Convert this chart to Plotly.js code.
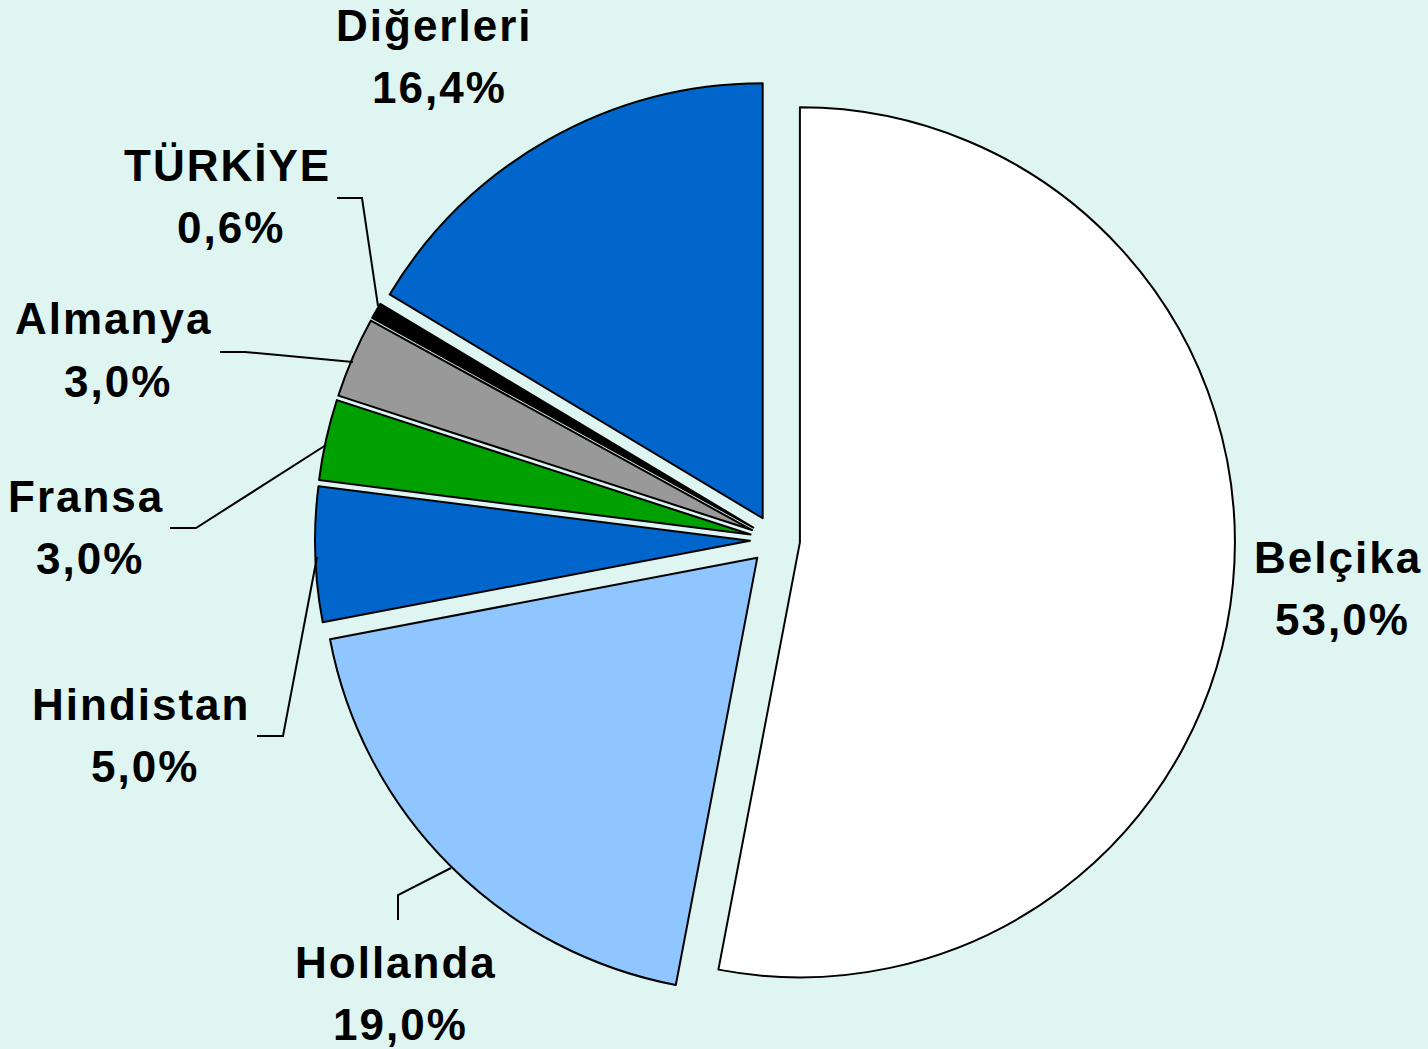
<!DOCTYPE html>
<html>
<head>
<meta charset="utf-8">
<script src="https://cdn.plot.ly/plotly-3.0.1.min.js"></script>
<style>
  body { margin: 0; background: #dff5f2; }
  .annotation-text { letter-spacing: 2px; }
</style>
</head>
<body>
<div id="plotArea" style="width:1428px;height:1049px;"></div>
<script>
// shares of each country
var countries = ["Belçika", "Hollanda", "Hindistan", "Fransa", "Almanya", "TÜRKİYE", "Diğerleri"]
var shares = [53.0, 19.0, 5.0, 3.0, 3.0, 0.6, 16.4]
var sliceColors = ["#ffffff", "#8fc6ff", "#0066cc", "#00a000", "#999999", "#000000", "#0066cc"]

// label centres and leader lines, in pixels of the 1428x1049 page
var W = 1428, H = 1049
var labelPos = [[1340, 588], [398, 993], [143, 735], [88, 527], [116, 350], [229, 196], [437, 57]]
var leaders = [
    null,
    [[398, 920], [398, 895], [451, 868]],
    [[257, 736], [283, 736], [317, 557]],
    [[170, 528], [196, 528], [326, 445]],
    [[220, 352], [245, 352], [353, 362]],
    [[337, 198], [362, 198], [378, 306]],
    null
]

function px(x) { return x / W }
function py(y) { return 1 - y / H }

var trace = [{
    type: "pie",
    labels: countries,
    values: shares,
    sort: false,
    direction: "clockwise",
    rotation: 0,
    pull: 0.0575,
    textinfo: "none",
    hoverinfo: "label+percent",
    marker: { colors: sliceColors, line: { color: "#000000", width: 2 } },
    domain: { x: [px(315), px(1235)], y: [py(1000), py(80)] },
    showlegend: false
}]

var labelFont = { family: "Liberation Sans, Arial, sans-serif", size: 44, weight: "bold", color: "#000000" }

// two lines per label: name and "53,0%"
var annotations = []
countries.forEach(function (name, i) {
    var pct = shares[i].toFixed(1).replace(".", ",") + "%"
    annotations.push({
        xref: "paper", yref: "paper",
        x: px(labelPos[i][0] - 2), y: py(labelPos[i][1] - 31),
        xanchor: "center", yanchor: "middle",
        text: name, showarrow: false, font: labelFont
    })
    annotations.push({
        xref: "paper", yref: "paper",
        x: px(labelPos[i][0] + 2), y: py(labelPos[i][1] + 31),
        xanchor: "center", yanchor: "middle",
        text: pct, showarrow: false, font: labelFont
    })
})

var shapes = []
leaders.forEach(function (pts) {
    if (!pts) return
    var d = pts.map((p, j) => (j == 0 ? "M" : "L") + px(p[0]) + "," + py(p[1])).join(" ")
    shapes.push({ type: "path", xref: "paper", yref: "paper", path: d, line: { color: "#000000", width: 2 } })
})

var layout = {
    width: W,
    height: H,
    margin: { l: 0, r: 0, t: 0, b: 0 },
    paper_bgcolor: "#dff5f2",
    plot_bgcolor: "#dff5f2",
    annotations: annotations,
    shapes: shapes
}
Plotly.newPlot("plotArea", trace, layout, { displayModeBar: false })
</script>
</body>
</html>
